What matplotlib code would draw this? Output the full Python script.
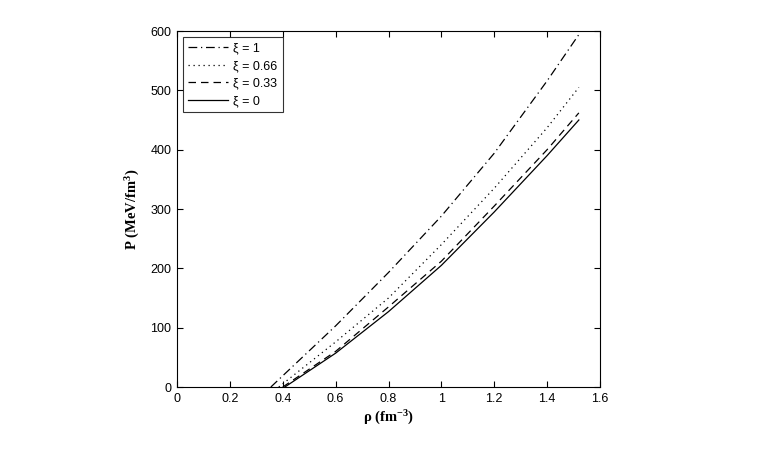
import matplotlib
matplotlib.use("Agg")
import matplotlib.pyplot as plt

rho_xi1 = [0.355, 0.6, 0.8, 1.0, 1.2, 1.4, 1.52]
p_xi1 = [0, 103, 193, 288, 394, 516, 594]
rho_xi066 = [0.385, 0.6, 0.8, 1.0, 1.2, 1.4, 1.52]
p_xi066 = [0, 76, 150, 240, 335, 437, 505]
rho_xi033 = [0.400, 0.6, 0.8, 1.0, 1.2, 1.4, 1.52]
p_xi033 = [0, 60, 135, 212, 305, 400, 462]
rho_xi0 = [0.408, 0.6, 0.8, 1.0, 1.2, 1.4, 1.52]
p_xi0 = [0, 57, 127, 205, 295, 390, 450]

labels = ["ξ = 1", "ξ = 0.66", "ξ = 0.33", "ξ = 0"]
xticks = [0, 0.2, 0.4, 0.6, 0.8, 1, 1.2, 1.4, 1.6]
xticklabels = ["0", "0.2", "0.4", "0.6", "0.8", "1", "1.2", "1.4", "1.6"]
yticks = [0, 100, 200, 300, 400, 500, 600]

plt.rcParams['font.family'] = ['Liberation Sans', 'DejaVu Sans']
plt.rcParams['mathtext.fontset'] = 'custom'
plt.rcParams['mathtext.rm'] = 'Liberation Serif'
plt.rcParams['mathtext.bf'] = 'Liberation Serif:bold'
plt.rcParams['mathtext.default'] = 'bf'

fig = plt.figure(figsize=(7.63, 4.76), dpi=100)
ax = fig.add_axes([177/763, 1-387/476, 423/763, 356/476])

ax.plot(rho_xi1, p_xi1, color='black', lw=0.9, linestyle=(0, (7, 3, 1, 3)), label=labels[0])
ax.plot(rho_xi066, p_xi066, color='black', lw=0.9, linestyle=(0, (1, 3)), label=labels[1])
ax.plot(rho_xi033, p_xi033, color='black', lw=0.9, linestyle=(0, (6, 4)), label=labels[2])
ax.plot(rho_xi0, p_xi0, color='black', lw=0.9, linestyle='-', label=labels[3])

ax.set_xlim(0, 1.6)
ax.set_ylim(0, 600)
ax.set_xticks(xticks)
ax.set_xticklabels(xticklabels)
ax.set_yticks(yticks)
ax.tick_params(direction='in', top=True, right=True, length=4, width=0.8, labelsize=9, pad=4)
for s in ax.spines.values():
    s.set_linewidth(0.8)

ax.set_xlabel("ρ (fm$^{-3}$)", family='Liberation Serif', fontweight='bold', fontsize=10.5, labelpad=3)
ax.set_ylabel("P (MeV/fm$^{3}$)", family='Liberation Serif', fontweight='bold', fontsize=10.5, labelpad=6)

leg = ax.legend(loc='upper left', fontsize=9, frameon=True, fancybox=False,
                edgecolor='black', handlelength=3.2, handletextpad=0.4,
                borderaxespad=0.5, labelspacing=0.45, borderpad=0.4)
leg.get_frame().set_linewidth(0.8)

fig.savefig("out.png", dpi=100, facecolor='white')
